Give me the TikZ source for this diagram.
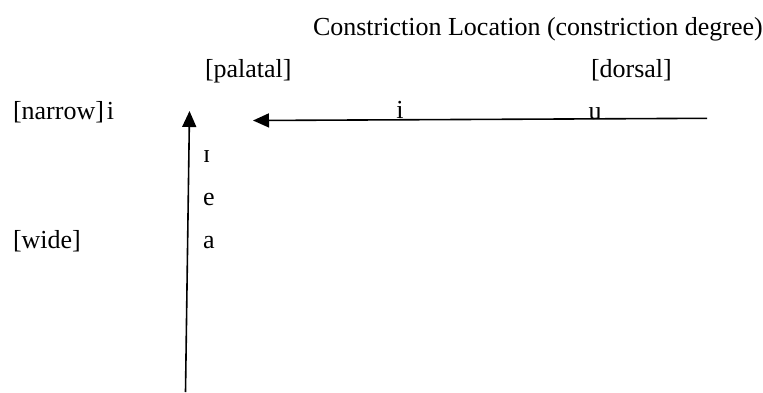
\documentclass[tikz,border=0pt]{standalone}
\usepackage{fontspec}
\setmainfont{Liberation Serif}
\usetikzlibrary{arrows.meta}
\begin{document}
\begin{tikzpicture}[x=1pt,y=1pt,
  lbl/.style={inner sep=0pt,outer sep=0pt,anchor=base west,font=\fontsize{26}{31}\selectfont},
  axis/.style={line width=1.6pt,-{Triangle[length=16pt,width=14pt]}}]
\useasboundingbox (0,0) rectangle (763,-392);
\node[lbl] (title) at (313,-35) {Constriction Location (constriction degree)};
\node[lbl] (pal) at (205,-77) {[palatal]};
\node[lbl] (dor) at (591,-77) {[dorsal]};
\node[lbl] (nar) at (13,-119) {[narrow]\kern3pt i};
\node[lbl] (ismall) at (203,-162) {ɪ};
\node[lbl] (e) at (203,-205) {e};
\node[lbl] (a) at (203,-248) {a};
\node[lbl] (wide) at (13,-248) {[wide]};
\node[lbl,anchor=base] (imid) at (400,-118.5) {i};
\node[lbl,anchor=base] (u) at (595,-119.5) {u};
\coordinate (hstart) at (707,-118.3);
\coordinate (hend) at (253,-120.5);
\coordinate (vbot) at (185.5,-392);
\coordinate (vtop) at (189.5,-111);
\draw[axis] (hstart) -- (hend);
\draw[axis] (vbot) -- (vtop);
\end{tikzpicture}
\end{document}
